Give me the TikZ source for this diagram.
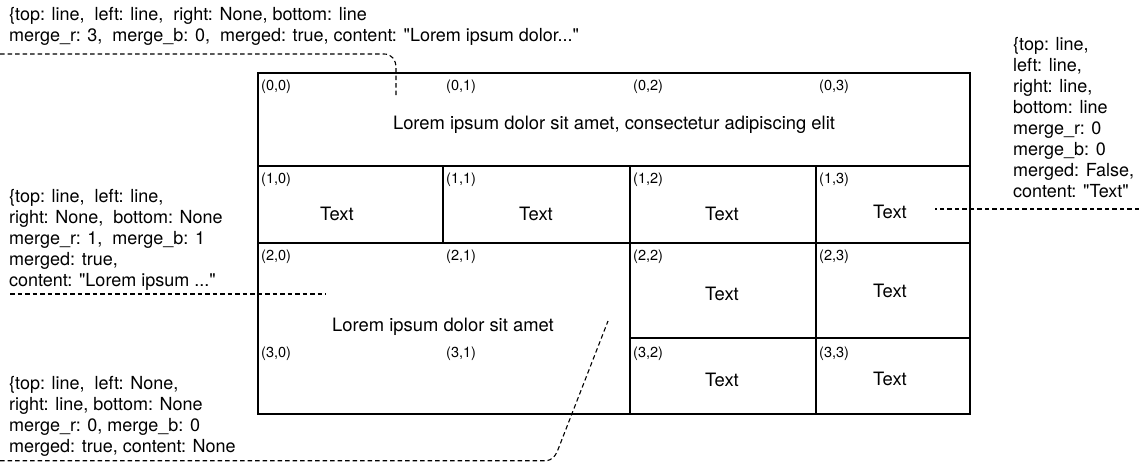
\documentclass[tikz,border=0pt]{standalone}
\usepackage{fontspec}
\setmainfont{TeX Gyre Heros}
\begin{document}
\begin{tikzpicture}[x=1pt,y=-1pt,
  grid/.style={line width=1.4pt},
  idx/.style={font=\fontsize{14.5}{16}\selectfont, anchor=north west, inner sep=0pt},
  body/.style={font=\fontsize{18.4}{21}\selectfont, inner sep=0pt},
  note/.style={font=\fontsize{18}{21}\selectfont, align=left, anchor=north west, inner sep=0pt},
  lead/.style={dash pattern=on 4.5pt off 3pt, line width=1.1pt}]
\useasboundingbox (0,0) rectangle (1139,461);

% table outline and cell borders
\draw[grid] (258,73) rectangle (970,414);
\draw[grid] (258,166) -- (970,166);
\draw[grid] (258,243) -- (970,243);
\draw[grid] (630,338) -- (970,338);
\draw[grid] (443,166) -- (443,243);
\draw[grid] (630,166) -- (630,414);
\draw[grid] (816,166) -- (816,414);

% cell indices
\node[idx] (i00) at (261,80) {(0,0)};
\node[idx] (i01) at (446,80) {(0,1)};
\node[idx] (i02) at (633,80) {(0,2)};
\node[idx] (i03) at (819,80) {(0,3)};
\node[idx] (i10) at (261,173) {(1,0)};
\node[idx] (i11) at (446,173) {(1,1)};
\node[idx] (i12) at (633,173) {(1,2)};
\node[idx] (i13) at (819,173) {(1,3)};
\node[idx] (i20) at (261,250) {(2,0)};
\node[idx] (i21) at (446,250) {(2,1)};
\node[idx] (i22) at (633,250) {(2,2)};
\node[idx] (i23) at (819,250) {(2,3)};
\node[idx] (i30) at (261,347) {(3,0)};
\node[idx] (i31) at (446,347) {(3,1)};
\node[idx] (i32) at (633,347) {(3,2)};
\node[idx] (i33) at (819,347) {(3,3)};

% cell contents
\node[body] (c0) at (614,125) {Lorem ipsum dolor sit amet, consectetur adipiscing elit};
\node[body] (c10) at (337,214) {Text};
\node[body] (c11) at (536,214) {Text};
\node[body] (c12) at (722,214) {Text};
\node[body] (c13) at (890,212) {Text};
\node[body] (c2) at (443,327) {Lorem ipsum dolor sit amet};
\node[body] (c22) at (722,294) {Text};
\node[body] (c23) at (890,291) {Text};
\node[body] (c32) at (722,380) {Text};
\node[body] (c33) at (890,379) {Text};

% cell descriptions
\node[note] (n1) at (9,7) {\{top: line,\ \ left: line,\ \ right: None, bottom: line\\merge\_r: 3,\ \ merge\_b: 0,\ \ merged: true, content: \textquotedbl Lorem ipsum dolor...\textquotedbl};
\node[note] (n2) at (1013,37) {\{top: line,\\left: line,\\right: line,\\bottom: line\\merge\_r: 0\\merge\_b: 0\\merged: False,\\content: \textquotedbl Text\textquotedbl};
\node[note] (n3) at (9,189) {\{top: line,\ \ left: line,\\right: None,\ \ bottom: None\\merge\_r: 1,\ \ merge\_b: 1\\merged: true,\\content: \textquotedbl Lorem ipsum ...\textquotedbl};
\node[note] (n4) at (9,376) {\{top: line,\ \ left: None,\\right: line, bottom: None\\merge\_r: 0, merge\_b: 0\\merged: true, content: None};

% leader lines from descriptions into cells
\coordinate (a1) at (0,54);
\coordinate (b1) at (396,96);
\coordinate (a2) at (1139,209);
\coordinate (b2) at (935,209);
\coordinate (a3) at (10,294);
\coordinate (b3) at (326,294);
\coordinate (a4) at (0,460.7);
\coordinate (b4) at (608,321);
\draw[lead] (a1) -- (384,54) .. controls (392,54) and (396,60) .. (396,68) -- (b1);
\draw[lead] (a2) -- (b2);
\draw[lead] (a3) -- (b3);
\draw[lead] (a4) -- (545,460.7) .. controls (553,460.7) and (556,455) .. (559,447) -- (b4);
\end{tikzpicture}
\end{document}
